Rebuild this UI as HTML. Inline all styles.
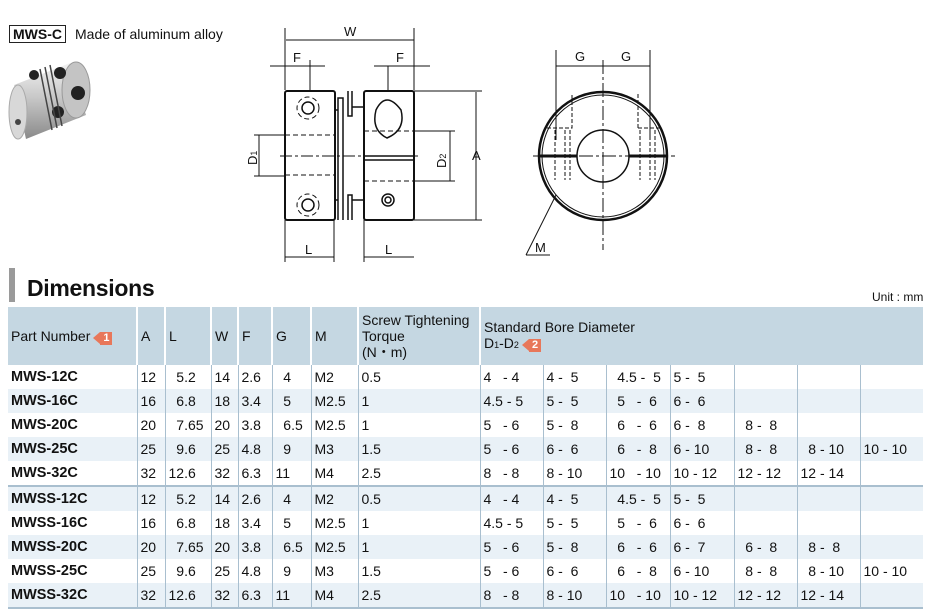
<!DOCTYPE html>
<html><head><meta charset="utf-8"><style>
body{margin:0;width:940px;height:611px;background:#fff;font-family:"Liberation Sans",sans-serif;position:relative;overflow:hidden;color:#111}
.abs{position:absolute}
table{position:absolute;left:8px;top:307px;border-collapse:collapse;table-layout:fixed;font-size:14px}
td{padding:0 0 0 3px;height:24px;line-height:24px;vertical-align:middle;border-left:1.5px solid #a9bfcf;white-space:pre;overflow:hidden}
td:first-child{border-left:none;font-weight:bold;font-size:14.5px;padding-left:3px}
tr.h td{background:#c5d7e2;height:58px;border-left:2px solid #fff;vertical-align:middle;line-height:16px}
tr.h td:first-child{border-left:none;font-weight:normal;font-size:14px}
tr.l td{background:#e9f1f7}
tr.sep td{border-top:2px solid #a9bfcf}
tr.last td{border-bottom:2px solid #a9bfcf}
.tag{display:inline-block;background:#e8775a;color:#fff;font-weight:bold;font-size:11px;line-height:13px;padding:0 3px;position:relative;margin-left:10px}
.tag:before{content:"";position:absolute;left:-7px;top:0;border-right:7px solid #e8775a;border-top:6.5px solid transparent;border-bottom:6.5px solid transparent}
</style></head><body>
<div class="abs" style="left:9px;top:25px;border:1.5px solid #222;font-weight:bold;font-size:14px;padding:0 3px;line-height:16px">MWS-C</div>
<div class="abs" style="left:75px;top:26px;font-size:14px">Made of aluminum alloy</div>
<svg class="abs" style="left:0;top:55px" width="100" height="90">
<defs><linearGradient id="g" x1="0" x2="0" y1="0" y2="1"><stop offset="0" stop-color="#f2f2f2"/><stop offset=".45" stop-color="#c8c8c8"/><stop offset="1" stop-color="#8a8a8a"/></linearGradient></defs>
<path d="M14 30 L70 8 L86 60 L26 84 Z" fill="url(#g)"/>
<ellipse cx="18" cy="57" rx="9" ry="27" fill="#d8d8d8" stroke="#aaa"/>
<ellipse cx="76" cy="35" rx="14" ry="28" fill="#c4c4c4" stroke="#999"/>
<circle cx="78" cy="38" r="7" fill="#222"/><circle cx="34" cy="20" r="5" fill="#222"/><circle cx="58" cy="57" r="6" fill="#222"/><circle cx="18" cy="67" r="3" fill="#444"/><circle cx="60" cy="18" r="6" fill="#222"/>
<path d="M40 14 L52 75 M45 12 L57 73 M50 10 L62 71" stroke="#444" stroke-width="1.5"/>
</svg>
<svg class="abs" style="left:0;top:0" width="940" height="280" font-family="Liberation Sans" font-size="13" fill="none" stroke="#111">
<g stroke-width="1">
<line x1="286" y1="40" x2="414" y2="40"/><line x1="285" y1="28" x2="285" y2="90"/><line x1="414" y1="28" x2="414" y2="90"/>
<line x1="270" y1="66" x2="325" y2="66"/><line x1="374" y1="66" x2="430" y2="66"/><line x1="310" y1="60" x2="310" y2="100"/><line x1="388" y1="66" x2="388" y2="100"/>
<line x1="285" y1="257" x2="334" y2="257"/><line x1="364" y1="257" x2="414" y2="257"/><line x1="285" y1="220" x2="285" y2="262"/><line x1="334" y1="220" x2="334" y2="262"/><line x1="364" y1="220" x2="364" y2="262"/>
<line x1="259" y1="135" x2="259" y2="176"/><line x1="254" y1="135" x2="286" y2="135"/><line x1="254" y1="176" x2="286" y2="176"/>
<line x1="450" y1="131" x2="450" y2="181"/><line x1="414" y1="131" x2="455" y2="131"/><line x1="414" y1="181" x2="455" y2="181"/>
<line x1="476" y1="92" x2="476" y2="220"/><line x1="414" y1="91" x2="482" y2="91"/><line x1="414" y1="220" x2="482" y2="220"/>
</g>
<g stroke-width="2" fill="#fff">
<rect x="285" y="91" width="50" height="129" rx="2"/>
<rect x="364" y="91" width="50" height="129" rx="2"/>
</g>
<g stroke-width="1.5">
<path d="M338 220 V98 h5 V220"/><path d="M348 91 v25 h4 v-25"/><path d="M348 220 v-25 h4 v25"/>
<path d="M335 110 h3 M335 200 h3 M352 107 h12 M352 200 h12"/>
<path d="M364 156 h50 M364 160 h50"/>
<path d="M376 110 q10 -20 25 0 q5 20 -14 28 q-16 -8 -11 -28z"/>
<circle cx="388" cy="200" r="6"/><circle cx="388" cy="200" r="3"/>
<circle cx="308" cy="108" r="6"/><circle cx="308" cy="205" r="6"/>
</g>
<g stroke-width="1" stroke-dasharray="5 3">
<circle cx="308" cy="108" r="11"/><circle cx="308" cy="205" r="11"/>
<line x1="285" y1="135" x2="335" y2="135"/><line x1="285" y1="175" x2="335" y2="175"/>
<line x1="364" y1="131" x2="414" y2="131"/><line x1="364" y1="181" x2="414" y2="181"/>
<line x1="280" y1="156" x2="420" y2="156" stroke-dasharray="12 3 3 3"/>
</g>
<g stroke-width="1">
<line x1="556" y1="66" x2="650" y2="66"/><line x1="556" y1="50" x2="556" y2="140"/><line x1="650" y1="50" x2="650" y2="140"/><line x1="603" y1="60" x2="603" y2="250" stroke-dasharray="14 3 3 3"/>
<line x1="533" y1="156" x2="675" y2="156" stroke-dasharray="14 3 3 3"/>
<line x1="556" y1="195" x2="526" y2="255"/><line x1="526" y1="255" x2="550" y2="255"/>
</g>
<circle cx="603" cy="156" r="64" stroke-width="2.5"/><circle cx="603" cy="156" r="61" stroke-width="1"/>
<circle cx="603" cy="156" r="26" stroke-width="1.5"/>
<g stroke-width="3"><line x1="540" y1="156" x2="577" y2="156"/><line x1="629" y1="156" x2="666" y2="156"/></g>
<g stroke-width="1" stroke-dasharray="4 2"><path d="M555 130 v50 M565 130 v50 M570 130 v50 M640 130 v50 M650 130 v50 M655 130 v50 M547 128 h25 v-35 M638 128 h24 M638 128 v-35"/></g>
<g fill="#111" stroke="none" font-size="13">
<text x="344" y="36">W</text><text x="293" y="62">F</text><text x="396" y="62">F</text>
<text x="305" y="254">L</text><text x="385" y="254">L</text>
<text x="472" y="160">A</text>
<text transform="translate(257,165) rotate(-90)">D<tspan font-size="9">1</tspan></text>
<text transform="translate(446,168) rotate(-90)">D<tspan font-size="9">2</tspan></text>
<text x="575" y="61">G</text><text x="621" y="61">G</text>
<text x="535" y="252">M</text>
</g>
</svg>
<div class="abs" style="left:9px;top:268px;width:6px;height:34px;background:#9a9a9a"></div>
<div class="abs" style="left:27px;top:275px;font-size:23px;font-weight:bold;letter-spacing:-0.3px">Dimensions</div>
<div class="abs" style="left:872px;top:290px;font-size:12px">Unit : mm</div>
<table>
<colgroup><col style="width:129px"><col style="width:28px"><col style="width:46px"><col style="width:27px"><col style="width:34px"><col style="width:39px"><col style="width:47px"><col style="width:122px"><col style="width:63px"><col style="width:63px"><col style="width:64px"><col style="width:64px"><col style="width:63px"><col style="width:63px"><col style="width:63px"></colgroup>
<tr class="h"><td>Part Number<span class="tag">1</span></td><td>A</td><td>L</td><td>W</td><td>F</td><td>G</td><td>M</td><td>Screw Tightening
Torque
(N・m)</td><td colspan="7" style="border-left:2px solid #fff">Standard Bore Diameter
D<small style="font-size:9px">1</small>-D<small style="font-size:9px">2</small><span class="tag">2</span></td></tr>
<tr><td>MWS-12C</td><td>12</td><td>  5.2</td><td>14</td><td>2.6</td><td>  4</td><td>M2</td><td>0.5</td><td>4   - 4</td><td>4 -  5</td><td>  4.5 -  5</td><td>5 -  5</td><td></td><td></td><td></td></tr>
<tr class="l"><td>MWS-16C</td><td>16</td><td>  6.8</td><td>18</td><td>3.4</td><td>  5</td><td>M2.5</td><td>1</td><td>4.5 - 5</td><td>5 -  5</td><td>  5   -  6</td><td>6 -  6</td><td></td><td></td><td></td></tr>
<tr><td>MWS-20C</td><td>20</td><td>  7.65</td><td>20</td><td>3.8</td><td>  6.5</td><td>M2.5</td><td>1</td><td>5   - 6</td><td>5 -  8</td><td>  6   -  6</td><td>6 -  8</td><td>  8 -  8</td><td></td><td></td></tr>
<tr class="l"><td>MWS-25C</td><td>25</td><td>  9.6</td><td>25</td><td>4.8</td><td>  9</td><td>M3</td><td>1.5</td><td>5   - 6</td><td>6 -  6</td><td>  6   -  8</td><td>6 - 10</td><td>  8 -  8</td><td>  8 - 10</td><td>10 - 10</td></tr>
<tr><td>MWS-32C</td><td>32</td><td>12.6</td><td>32</td><td>6.3</td><td>11</td><td>M4</td><td>2.5</td><td>8   - 8</td><td>8 - 10</td><td>10   - 10</td><td>10 - 12</td><td>12 - 12</td><td>12 - 14</td><td></td></tr>
<tr class="l sep"><td>MWSS-12C</td><td>12</td><td>  5.2</td><td>14</td><td>2.6</td><td>  4</td><td>M2</td><td>0.5</td><td>4   - 4</td><td>4 -  5</td><td>  4.5 -  5</td><td>5 -  5</td><td></td><td></td><td></td></tr>
<tr><td>MWSS-16C</td><td>16</td><td>  6.8</td><td>18</td><td>3.4</td><td>  5</td><td>M2.5</td><td>1</td><td>4.5 - 5</td><td>5 -  5</td><td>  5   -  6</td><td>6 -  6</td><td></td><td></td><td></td></tr>
<tr class="l"><td>MWSS-20C</td><td>20</td><td>  7.65</td><td>20</td><td>3.8</td><td>  6.5</td><td>M2.5</td><td>1</td><td>5   - 6</td><td>5 -  8</td><td>  6   -  6</td><td>6 -  7</td><td>  6 -  8</td><td>  8 -  8</td><td></td></tr>
<tr><td>MWSS-25C</td><td>25</td><td>  9.6</td><td>25</td><td>4.8</td><td>  9</td><td>M3</td><td>1.5</td><td>5   - 6</td><td>6 -  6</td><td>  6   -  8</td><td>6 - 10</td><td>  8 -  8</td><td>  8 - 10</td><td>10 - 10</td></tr>
<tr class="l last"><td>MWSS-32C</td><td>32</td><td>12.6</td><td>32</td><td>6.3</td><td>11</td><td>M4</td><td>2.5</td><td>8   - 8</td><td>8 - 10</td><td>10   - 10</td><td>10 - 12</td><td>12 - 12</td><td>12 - 14</td><td></td></tr>
</table>
</body></html>
